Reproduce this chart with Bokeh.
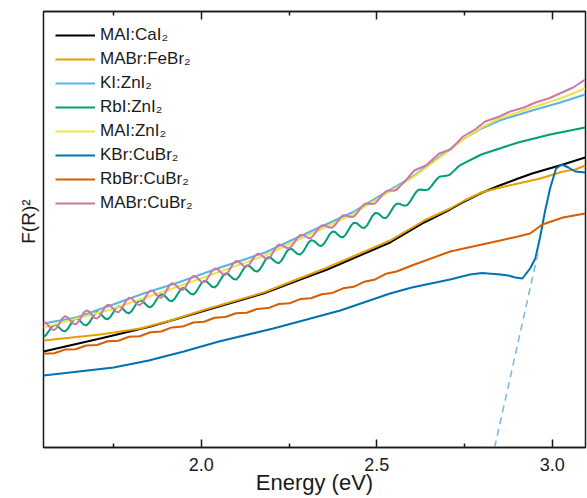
from bokeh.plotting import figure
from bokeh.models import Range1d, FixedTicker, LinearAxis, NumeralTickFormatter
from bokeh.embed import file_html
from bokeh.resources import INLINE

FONT = "Liberation Sans"

# ---- data (F(R)^2, arbitrary units) ----
cai_E = [1.550, 1.712, 1.855, 1.934, 2.011, 2.177, 2.282, 2.359, 2.538, 2.635, 2.709, 2.750, 2.798, 2.850, 2.903, 2.943, 3.031, 3.094]
cai_y = [0.96, 1.09, 1.21, 1.29, 1.37, 1.54, 1.68, 1.78, 2.05, 2.25, 2.38, 2.46, 2.545, 2.62, 2.69, 2.74, 2.83, 2.90]

fe_E = [1.550, 1.712, 1.826, 1.912, 2.011, 2.177, 2.359, 2.538, 2.635, 2.709, 2.750, 2.798, 2.852, 2.903, 2.966, 3.031, 3.066, 3.094]
fe_y = [1.07, 1.13, 1.19, 1.27, 1.38, 1.55, 1.80, 2.07, 2.27, 2.39, 2.47, 2.55, 2.60, 2.64, 2.69, 2.76, 2.78, 2.82]

kizn_E = [1.550, 1.644, 1.741, 1.835, 1.934, 2.054, 2.182, 2.311, 2.430, 2.510, 2.607, 2.695, 2.750, 2.798, 2.850, 2.943, 3.023, 3.094]
kizn_y = [1.24, 1.30, 1.42, 1.54, 1.65, 1.80, 1.95, 2.16, 2.35, 2.52, 2.72, 2.95, 3.09, 3.19, 3.27, 3.37, 3.45, 3.53]

# sampling grid of the fringe region (energy, eV)
fringe_E = [1.55000, 1.55763, 1.56525, 1.57288, 1.58050, 1.58813, 1.59575, 1.60338, 1.61100, 1.61863,
            1.62625, 1.63388, 1.64150, 1.64913, 1.65675, 1.66438, 1.67200, 1.67963, 1.68725, 1.69488,
            1.70250, 1.71013, 1.71775, 1.72538, 1.73300, 1.74063, 1.74825, 1.75588, 1.76350, 1.77113,
            1.77875, 1.78638, 1.79400, 1.80163, 1.80925, 1.81688, 1.82450, 1.83213, 1.83975, 1.84738,
            1.85500, 1.86263, 1.87025, 1.87788, 1.88550, 1.89313, 1.90075, 1.90838, 1.91600, 1.92363,
            1.93125, 1.93888, 1.94650, 1.95413, 1.96175, 1.96938, 1.97700, 1.98463, 1.99225, 1.99988,
            2.00750, 2.01513, 2.02275, 2.03038, 2.03800, 2.04563, 2.05325, 2.06088, 2.06850, 2.07613,
            2.08375, 2.09138, 2.09900, 2.10663, 2.11425, 2.12188, 2.12950, 2.13713, 2.14475, 2.15238,
            2.16000, 2.16763, 2.17525, 2.18288, 2.19050, 2.19813, 2.20575, 2.21338, 2.22100, 2.22863,
            2.23625, 2.24388, 2.25150, 2.25913, 2.26675, 2.27438, 2.28200, 2.28963, 2.29725, 2.30488,
            2.31250, 2.32013, 2.32775, 2.33538, 2.34300, 2.35063, 2.35825, 2.36588, 2.37350, 2.38113,
            2.38875, 2.39638, 2.40400, 2.41163, 2.41925, 2.42688, 2.43450, 2.44213, 2.44975, 2.45738,
            2.46500, 2.47263, 2.48025, 2.48788, 2.49550, 2.50313, 2.51075, 2.51838, 2.52600, 2.53363,
            2.54125, 2.54888, 2.55650, 2.56413, 2.57175, 2.57938, 2.58700, 2.59463, 2.60225, 2.60988,
            2.61750, 2.62513, 2.63275, 2.64038, 2.64800, 2.65563, 2.66325, 2.67088, 2.67850, 2.68613,
            2.69375, 2.70138, 2.70900, 2.71663, 2.72425, 2.73188, 2.73950]

rbizn_E = fringe_E + [2.798, 2.903, 2.994, 3.094]
rbizn_y = [1.105, 1.126, 1.165, 1.205, 1.225, 1.223, 1.196, 1.169, 1.161, 1.184,
           1.226, 1.269, 1.291, 1.284, 1.256, 1.229, 1.221, 1.244, 1.287, 1.330,
           1.352, 1.345, 1.317, 1.290, 1.282, 1.305, 1.347, 1.390, 1.412, 1.405,
           1.377, 1.350, 1.342, 1.365, 1.407, 1.450, 1.472, 1.465, 1.437, 1.410,
           1.402, 1.425, 1.467, 1.510, 1.532, 1.525, 1.497, 1.470, 1.462, 1.485,
           1.527, 1.571, 1.595, 1.589, 1.563, 1.537, 1.530, 1.554, 1.598, 1.642,
           1.666, 1.660, 1.634, 1.608, 1.601, 1.625, 1.669, 1.714, 1.739, 1.735,
           1.710, 1.685, 1.680, 1.705, 1.750, 1.795, 1.820, 1.816, 1.791, 1.766,
           1.761, 1.786, 1.831, 1.877, 1.902, 1.898, 1.873, 1.849, 1.844, 1.870,
           1.916, 1.962, 1.987, 1.983, 1.958, 1.934, 1.930, 1.956, 2.001, 2.047,
           2.072, 2.068, 2.044, 2.020, 2.016, 2.042, 2.087, 2.133, 2.159, 2.155,
           2.131, 2.107, 2.103, 2.129, 2.174, 2.221, 2.247, 2.245, 2.222, 2.199,
           2.196, 2.223, 2.270, 2.318, 2.345, 2.342, 2.319, 2.297, 2.294, 2.324,
           2.368, 2.413, 2.438, 2.438, 2.426, 2.417, 2.424, 2.458, 2.501, 2.545,
           2.574, 2.579, 2.576, 2.574, 2.583, 2.613, 2.648, 2.683, 2.707, 2.713,
           2.716, 2.719, 2.730, 2.756, 2.781, 2.807, 2.827,
           2.93, 3.05, 3.13, 3.20]

maizn_E = [1.550, 1.741, 1.934, 2.182, 2.430, 2.607, 2.695, 2.750, 2.798, 2.850, 2.943, 3.023, 3.094]
maizn_y = [1.20, 1.38, 1.61, 1.92, 2.33, 2.71, 2.94, 3.09, 3.20, 3.29, 3.40, 3.49, 3.59]

kcu_E = [1.550, 1.650, 1.750, 1.850, 1.950, 2.050, 2.205, 2.396, 2.538, 2.600, 2.709, 2.766, 2.800, 2.852, 2.875,
         2.895, 2.915, 2.937, 2.952, 2.966, 2.980, 2.994, 3.011, 3.028, 3.046, 3.066, 3.094]
kcu_y = [0.72, 0.76, 0.80, 0.87, 0.96, 1.06, 1.19, 1.37, 1.54, 1.60, 1.68, 1.73, 1.745, 1.73, 1.72,
         1.70, 1.69, 1.79, 1.89, 2.11, 2.37, 2.59, 2.79, 2.83, 2.80, 2.76, 2.75]

rbcu_E = [1.5500, 1.5805, 1.6110, 1.6415, 1.6720, 1.7025, 1.7330, 1.7635, 1.7940, 1.8245,
          1.8550, 1.8855, 1.9160, 1.9465, 1.9770, 2.0075, 2.0380, 2.0685, 2.0990, 2.1295,
          2.1600, 2.1905, 2.2210, 2.2515, 2.2820, 2.3125, 2.3430, 2.3735, 2.4040, 2.4345,
          2.4650, 2.4955, 2.5260, 2.5565,
          2.600, 2.709, 2.852, 2.903, 2.937, 2.972, 3.031, 3.094]
rbcu_y = [0.938, 0.942, 0.979, 0.983, 1.020, 1.025, 1.062, 1.068, 1.107, 1.113,
          1.152, 1.160, 1.201, 1.209, 1.250, 1.258, 1.298, 1.305, 1.342, 1.348,
          1.386, 1.394, 1.435, 1.443, 1.484, 1.492, 1.532, 1.546, 1.592, 1.607,
          1.658, 1.681, 1.737, 1.760,
          1.82, 1.96, 2.07, 2.11, 2.14, 2.23, 2.30, 2.34]

macu_E = fringe_E[:133] + [2.585, 2.607, 2.640, 2.678, 2.710, 2.746, 2.780, 2.809, 2.850, 2.880,
                           2.920, 2.952, 2.990, 3.028, 3.060, 3.094]
macu_y = [1.255, 1.246, 1.214, 1.183, 1.174, 1.197, 1.243, 1.289, 1.312, 1.304,
          1.272, 1.240, 1.231, 1.255, 1.301, 1.347, 1.370, 1.361, 1.329, 1.298,
          1.289, 1.312, 1.358, 1.404, 1.427, 1.420, 1.389, 1.359, 1.352, 1.377,
          1.425, 1.473, 1.498, 1.491, 1.461, 1.431, 1.424, 1.450, 1.498, 1.546,
          1.571, 1.564, 1.534, 1.504, 1.497, 1.522, 1.570, 1.618, 1.643, 1.633,
          1.607, 1.582, 1.576, 1.601, 1.645, 1.690, 1.714, 1.709, 1.683, 1.658,
          1.652, 1.677, 1.721, 1.766, 1.790, 1.785, 1.759, 1.734, 1.728, 1.753,
          1.797, 1.842, 1.866, 1.858, 1.835, 1.813, 1.809, 1.832, 1.874, 1.916,
          1.938, 1.935, 1.912, 1.891, 1.889, 1.915, 1.959, 2.004, 2.029, 2.025,
          2.009, 1.994, 1.995, 2.020, 2.060, 2.101, 2.125, 2.126, 2.110, 2.095,
          2.096, 2.124, 2.161, 2.199, 2.221, 2.224, 2.211, 2.199, 2.201, 2.224,
          2.262, 2.300, 2.322, 2.321, 2.312, 2.305, 2.310, 2.336, 2.373, 2.410,
          2.435, 2.443, 2.438, 2.434, 2.441, 2.470, 2.504, 2.538, 2.561, 2.571,
          2.569, 2.568, 2.577,
          2.68, 2.77, 2.82, 2.94, 2.98, 3.11, 3.18, 3.26, 3.31, 3.36,
          3.40, 3.45, 3.49, 3.55, 3.60, 3.68]

tangent_E = [2.836, 2.963]
tangent_y = [0.0, 2.00]

series = [
    ("MAI:CaI₂", cai_E, cai_y, "#000000"),
    ("MABr:FeBr₂", fe_E, fe_y, "#E69F00"),
    ("KI:ZnI₂", kizn_E, kizn_y, "#56B4E9"),
    ("RbI:ZnI₂", rbizn_E, rbizn_y, "#009E73"),
    ("MAI:ZnI₂", maizn_E, maizn_y, "#F0E442"),
    ("KBr:CuBr₂", kcu_E, kcu_y, "#0072B2"),
    ("RbBr:CuBr₂", rbcu_E, rbcu_y, "#D55E00"),
    ("MABr:CuBr₂", macu_E, macu_y, "#CC79A7"),
]

x_ticks = [2.0, 2.5, 3.0]
x_minor = [1.75, 2.25, 2.75]

p = figure(width=587, height=498, output_backend="svg", toolbar_location=None,
           x_range=Range1d(1.55, 3.095), y_range=Range1d(0, 4.36),
           min_border_left=43, min_border_right=2, min_border_top=11, min_border_bottom=51,
           x_axis_location=None, y_axis_location=None)
p.grid.visible = False
p.outline_line_color = "#1a1a1a"
p.outline_line_width = 1.5
p.background_fill_color = "white"
p.border_fill_color = "white"

for lab, ex, ey, col in series:
    p.line(ex, ey, line_color=col, line_width=2, legend_label=lab, line_join="round")

p.line(tangent_E, tangent_y, line_color="#74B7E3", line_width=1.5, line_dash="7 5")


def style_x_axis(ax):
    ax.major_tick_in = 8
    ax.major_tick_out = 0
    ax.minor_tick_in = 4
    ax.minor_tick_out = 0
    ax.axis_line_width = 1.5
    ax.axis_line_color = "#1a1a1a"
    ax.major_tick_line_width = 1.5
    ax.minor_tick_line_width = 1.5
    ax.major_tick_line_color = "#1a1a1a"
    ax.minor_tick_line_color = "#1a1a1a"


bottom = LinearAxis(ticker=FixedTicker(ticks=x_ticks, minor_ticks=x_minor),
                    formatter=NumeralTickFormatter(format="0.0"))
style_x_axis(bottom)
bottom.major_label_text_font = FONT
bottom.major_label_text_font_size = "18px"
bottom.major_label_text_color = "#1a1a1a"
bottom.major_label_standoff = 10
bottom.axis_label = "Energy (eV)"
bottom.axis_label_text_font = FONT
bottom.axis_label_text_font_size = "22px"
bottom.axis_label_text_font_style = "normal"
bottom.axis_label_text_color = "#1a1a1a"
bottom.axis_label_standoff = -4
p.add_layout(bottom, "below")

top = LinearAxis(ticker=FixedTicker(ticks=x_ticks, minor_ticks=x_minor),
                 major_label_overrides={2: "", 2.5: "", 3: ""})
style_x_axis(top)
top.major_label_text_font_size = "1px"
top.major_label_standoff = 0
p.add_layout(top, "above")

left = LinearAxis(ticker=FixedTicker(ticks=[]))
left.axis_line_alpha = 0
left.major_tick_in = 0
left.major_tick_out = 0
left.minor_tick_in = 0
left.minor_tick_out = 0
left.major_label_standoff = 0
left.axis_label = "\u00a0\u00a0\u00a0F(R)²"
left.axis_label_text_font = FONT
left.axis_label_text_font_size = "19px"
left.axis_label_text_font_style = "normal"
left.axis_label_text_color = "#1a1a1a"
left.axis_label_standoff = 5
p.add_layout(left, "left")

lg = p.legend[0]
lg.location = "top_left"
lg.margin = 0
lg.padding = 12
lg.spacing = 0
lg.glyph_width = 40
lg.glyph_height = 24
lg.label_height = 24
lg.label_standoff = 5
lg.label_text_font = FONT
lg.label_text_font_size = "17px"
lg.label_text_color = "#1a1a1a"
lg.border_line_alpha = 0
lg.background_fill_alpha = 0

open("out.html", "w").write(file_html(p, INLINE))
